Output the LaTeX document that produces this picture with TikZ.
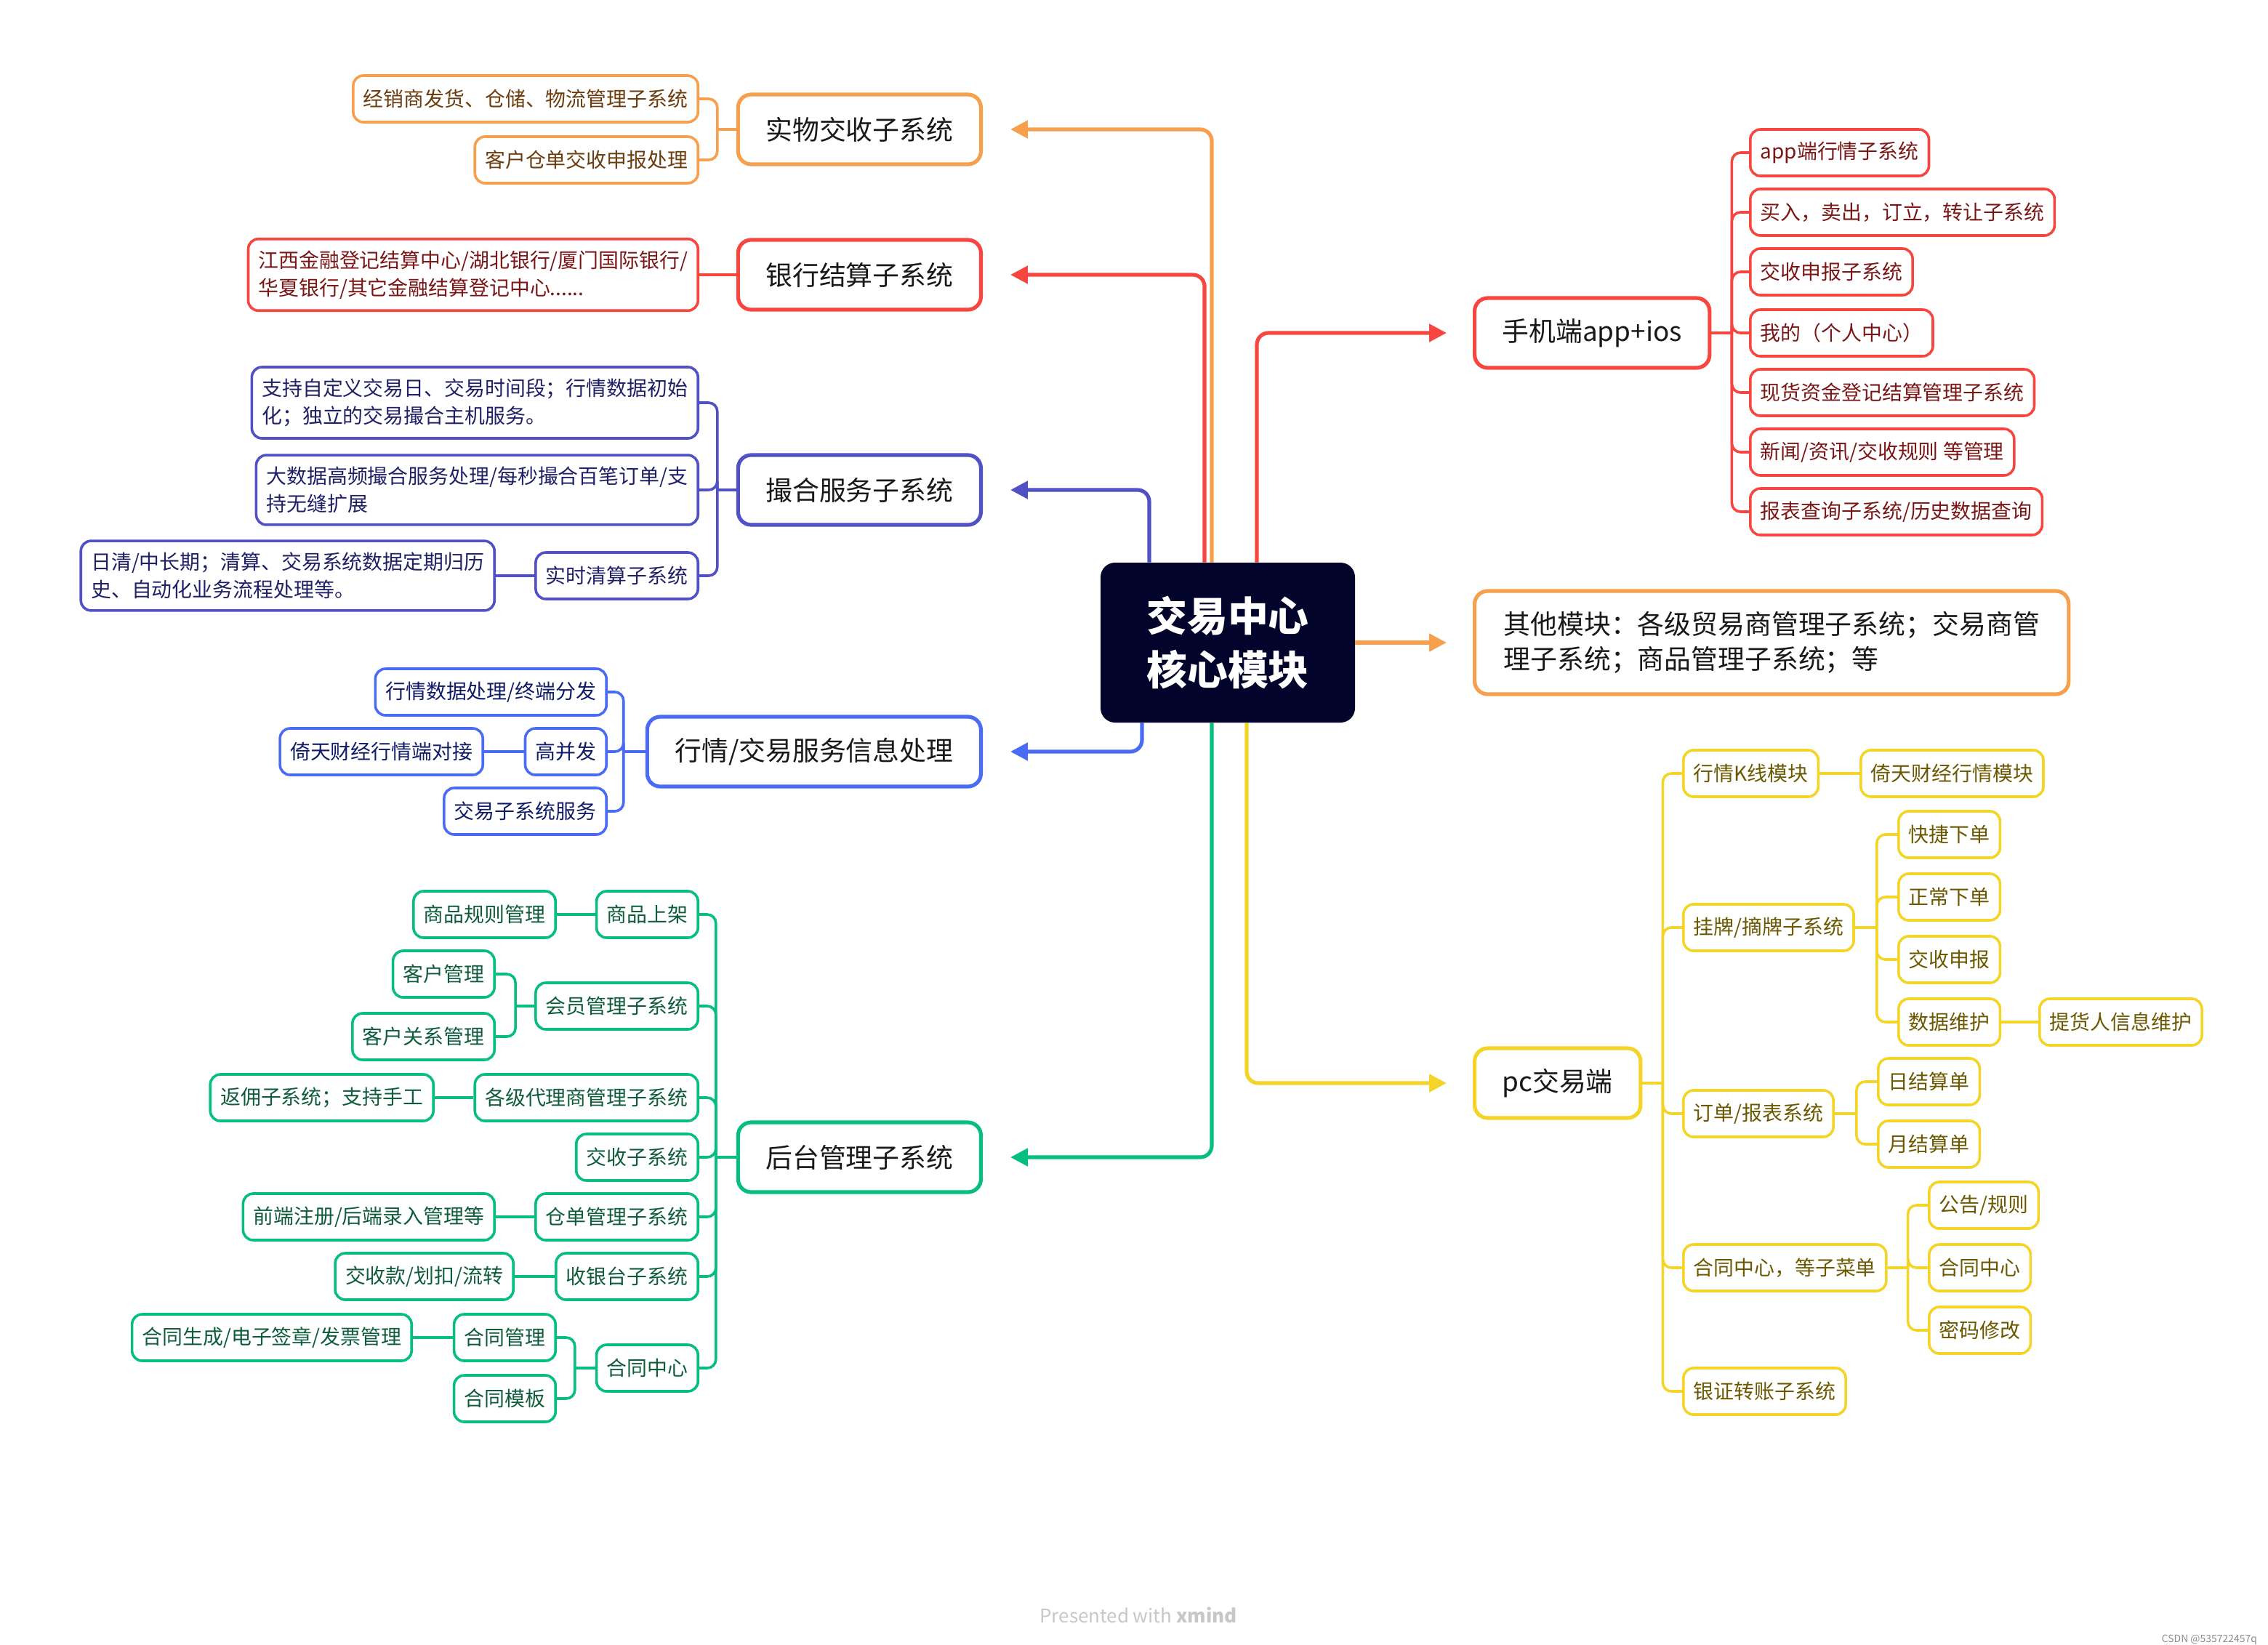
\documentclass[tikz,border=0pt]{standalone}
\usepackage{fontspec}
\setmainfont{Noto Sans CJK SC}
\usetikzlibrary{arrows.meta}
\definecolor{hubfill}{HTML}{02042B}
\definecolor{orng}{HTML}{F6A04D}
\definecolor{orngtxt}{HTML}{6B3C0E}
\definecolor{rd}{HTML}{F7453F}
\definecolor{rdtxt}{HTML}{7A1616}
\definecolor{pur}{HTML}{5150C5}
\definecolor{purtxt}{HTML}{202066}
\definecolor{blu}{HTML}{4A6CF5}
\definecolor{blutxt}{HTML}{101C66}
\definecolor{grn}{HTML}{06BE7E}
\definecolor{grntxt}{HTML}{0E5C3C}
\definecolor{yel}{HTML}{F3D427}
\definecolor{yeltxt}{HTML}{6B5800}
\begin{document}
\begin{tikzpicture}
  [x=1bp, y=-1bp,
  every node/.style={align=left},
  hub/.style={fill=hubfill, text=white, rounded corners=10pt, align=center,
    minimum width=175bp, minimum height=110bp, font=\fontsize{28}{37}\selectfont\bfseries},
  topic/.style={draw=#1, line width=2.6pt, rounded corners=9pt, text=black!90,
    minimum height=48bp, inner xsep=19bp, font=\fontsize{18.5}{24}\selectfont},
  leaf/.style={draw=#1, line width=1.8pt, rounded corners=7pt,
    minimum height=32bp, inner xsep=7bp, inner ysep=8bp, font=\fontsize{14}{19}\selectfont},
  oleaf/.style={leaf=orng, text=orngtxt},
  rleaf/.style={leaf=rd, text=rdtxt},
  pleaf/.style={leaf=pur, text=purtxt},
  bleaf/.style={leaf=blu, text=blutxt},
  gleaf/.style={leaf=grn, text=grntxt},
  yleaf/.style={leaf=yel, text=yeltxt},
  main/.style={line width=2.6pt, rounded corners=8pt,
    -{Triangle[length=12pt,width=12pt]}, shorten >=19bp},
  link/.style={draw=#1, line width=1.8pt, rounded corners=6pt},
  ]
  \useasboundingbox (0,0) rectangle (1560,1131);

  % centre
  \node[hub] (hub) at (844.5,442) {交易中心\\核心模块};

  % left topics
  \node[topic=orng, anchor=east] (phys) at (676,89) {实物交收子系统};
  \node[topic=rd, anchor=east] (bank) at (676,189) {银行结算子系统};
  \node[topic=pur, anchor=east] (match) at (676,337) {撮合服务子系统};
  \node[topic=blu, anchor=east] (quote) at (676,517) {行情/交易服务信息处理};
  \node[topic=grn, anchor=east] (admin) at (676,796) {后台管理子系统};

  % right topics
  \node[topic=rd, anchor=west] (mobile) at (1013,229) {手机端app+ios};
  \node[topic=orng, anchor=west, inner xsep=20bp, minimum height=71bp] (other) at (1013,442)
    {其他模块：各级贸易商管理子系统；交易商管\\理子系统；商品管理子系统；等};
  \node[topic=yel, anchor=west] (pc) at (1013,745) {pc交易端};

  \draw[main, orng] ([xshift=-11bp]hub.north) |- (phys);
  \draw[main, rd] ([xshift=-16bp]hub.north) |- (bank);
  \draw[main, pur] ([xshift=-54bp]hub.north) |- (match);
  \draw[main, blu] ([xshift=-59bp]hub.south) |- (quote);
  \draw[main, grn] ([xshift=-11bp]hub.south) |- (admin);
  \draw[main, rd, shorten >=18bp] ([xshift=20bp]hub.north) |- (mobile);
  \draw[main, orng, shorten >=18bp] (hub) -- (other);
  \draw[main, yel, shorten >=18bp] ([xshift=13bp]hub.south) |- (pc);

  % physical delivery
  \node[oleaf, anchor=east] (dist) at (481,68) {经销商发货、仓储、物流管理子系统};
  \node[oleaf, anchor=east] (claim) at (481,110) {客户仓单交收申报处理};
  \coordinate (physJ) at ([xshift=-13bp]phys.west);
  \draw[link=orng] (phys.west) -- (physJ);
  \draw[link=orng] (physJ) |- (dist.east);
  \draw[link=orng] (physJ) |- (claim.east);

  % bank settlement
  \node[rleaf, anchor=east] (banklist) at (481,189)
    {江西金融登记结算中心/湖北银行/厦门国际银行/\\华夏银行/其它金融结算登记中心......};
  \draw[link=rd] (bank.west) -- (banklist.east);

  % matching
  \node[pleaf, anchor=east] (rule1) at (481,277)
    {支持自定义交易日、交易时间段；行情数据初始\\化；独立的交易撮合主机服务。};
  \node[pleaf, anchor=east] (rule2) at (481,337)
    {大数据高频撮合服务处理/每秒撮合百笔订单/支\\持无缝扩展};
  \node[pleaf, anchor=east] (clear) at (481,396) {实时清算子系统};
  \node[pleaf, anchor=east] (clearnote) at (341,396)
    {日清/中长期；清算、交易系统数据定期归历\\史、自动化业务流程处理等。};
  \coordinate (matchJ) at ([xshift=-13bp]match.west);
  \draw[link=pur] (match.west) -- (matchJ);
  \draw[link=pur] (matchJ) |- (rule1.east);
  \draw[link=pur] (matchJ) |- (rule2.east);
  \draw[link=pur] (matchJ) |- (clear.east);
  \draw[link=pur] (clear.west) -- (clearnote.east);

  % quotes
  \node[bleaf, anchor=east] (qdist) at (418,476) {行情数据处理/终端分发};
  \node[bleaf, anchor=east] (conc) at (418,517) {高并发};
  \node[bleaf, anchor=east] (ytfeed) at (333,517) {倚天财经行情端对接};
  \node[bleaf, anchor=east] (tsvc) at (418,558) {交易子系统服务};
  \coordinate (quoteJ) at ([xshift=-15bp]quote.west);
  \draw[link=blu] (quote.west) -- (quoteJ);
  \draw[link=blu] (quoteJ) |- (qdist.east);
  \draw[link=blu] (quoteJ) |- (conc.east);
  \draw[link=blu] (quoteJ) |- (tsvc.east);
  \draw[link=blu] (conc.west) -- (ytfeed.east);

  % back office
  \node[gleaf, anchor=east] (golist) at (481,629) {商品上架};
  \node[gleaf, anchor=east] (listrule) at (383,629) {商品规则管理};
  \node[gleaf, anchor=east] (member) at (481,692) {会员管理子系统};
  \node[gleaf, anchor=east] (custmgr) at (341,670) {客户管理};
  \node[gleaf, anchor=east] (crm) at (341,713) {客户关系管理};
  \node[gleaf, anchor=east] (agent) at (481,755) {各级代理商管理子系统};
  \node[gleaf, anchor=east] (rebate) at (299,755) {返佣子系统；支持手工};
  \node[gleaf, anchor=east] (settle) at (481,796) {交收子系统};
  \node[gleaf, anchor=east] (receipt) at (481,837) {仓单管理子系统};
  \node[gleaf, anchor=east] (regnote) at (341,837) {前端注册/后端录入管理等};
  \node[gleaf, anchor=east] (cashier) at (481,878) {收银台子系统};
  \node[gleaf, anchor=east] (paynote) at (354,878) {交收款/划扣/流转};
  \node[gleaf, anchor=east] (contract) at (481,941) {合同中心};
  \node[gleaf, anchor=east] (cmgr) at (383,920) {合同管理};
  \node[gleaf, anchor=east] (cgen) at (284,920) {合同生成/电子签章/发票管理};
  \node[gleaf, anchor=east] (ctpl) at (383,962) {合同模板};
  \coordinate (adminJ) at ([xshift=-14bp]admin.west);
  \draw[link=grn] (admin.west) -- (adminJ);
  \draw[link=grn] (adminJ) |- (golist.east);
  \draw[link=grn] (adminJ) |- (member.east);
  \draw[link=grn] (adminJ) |- (agent.east);
  \draw[link=grn] (adminJ) |- (settle.east);
  \draw[link=grn] (adminJ) |- (receipt.east);
  \draw[link=grn] (adminJ) |- (cashier.east);
  \draw[link=grn] (adminJ) |- (contract.east);
  \draw[link=grn] (golist.west) -- (listrule.east);
  \coordinate (memberJ) at ([xshift=-13bp]member.west);
  \draw[link=grn] (member.west) -- (memberJ);
  \draw[link=grn] (memberJ) |- (custmgr.east);
  \draw[link=grn] (memberJ) |- (crm.east);
  \draw[link=grn] (agent.west) -- (rebate.east);
  \draw[link=grn] (receipt.west) -- (regnote.east);
  \draw[link=grn] (cashier.west) -- (paynote.east);
  \coordinate (contractJ) at ([xshift=-14bp]contract.west);
  \draw[link=grn] (contract.west) -- (contractJ);
  \draw[link=grn] (contractJ) |- (cmgr.east);
  \draw[link=grn] (contractJ) |- (ctpl.east);
  \draw[link=grn] (cmgr.west) -- (cgen.east);

  % mobile app
  \node[rleaf, anchor=west] (appq) at (1203,105) {app端行情子系统};
  \node[rleaf, anchor=west] (trade) at (1203,146) {买入，卖出，订立，转让子系统};
  \node[rleaf, anchor=west] (dclaim) at (1203,187) {交收申报子系统};
  \node[rleaf, anchor=west] (mine) at (1203,229) {我的（个人中心）};
  \node[rleaf, anchor=west] (funds) at (1203,270) {现货资金登记结算管理子系统};
  \node[rleaf, anchor=west] (news) at (1203,311) {新闻/资讯/交收规则 等管理};
  \node[rleaf, anchor=west] (report) at (1203,352) {报表查询子系统/历史数据查询};
  \coordinate (mobileJ) at ([xshift=14bp]mobile.east);
  \draw[link=rd] (mobile.east) -- (mobileJ);
  \draw[link=rd] (mobileJ) |- (appq.west);
  \draw[link=rd] (mobileJ) |- (trade.west);
  \draw[link=rd] (mobileJ) |- (dclaim.west);
  \draw[link=rd] (mobileJ) |- (mine.west);
  \draw[link=rd] (mobileJ) |- (funds.west);
  \draw[link=rd] (mobileJ) |- (news.west);
  \draw[link=rd] (mobileJ) |- (report.west);

  % pc client
  \node[yleaf, anchor=west] (kline) at (1157,532) {行情K线模块};
  \node[yleaf, anchor=west] (ytmod) at (1279,532) {倚天财经行情模块};
  \node[yleaf, anchor=west] (listing) at (1157,638) {挂牌/摘牌子系统};
  \node[yleaf, anchor=west] (quick) at (1305,574) {快捷下单};
  \node[yleaf, anchor=west] (normal) at (1305,617) {正常下单};
  \node[yleaf, anchor=west] (ydeliver) at (1305,660) {交收申报};
  \node[yleaf, anchor=west] (maint) at (1305,703) {数据维护};
  \node[yleaf, anchor=west] (pickup) at (1402,703) {提货人信息维护};
  \node[yleaf, anchor=west] (orders) at (1157,766) {订单/报表系统};
  \node[yleaf, anchor=west] (daily) at (1291,744) {日结算单};
  \node[yleaf, anchor=west] (monthly) at (1291,787) {月结算单};
  \node[yleaf, anchor=west] (menu) at (1157,872) {合同中心，等子菜单};
  \node[yleaf, anchor=west] (notice) at (1326,829) {公告/规则};
  \node[yleaf, anchor=west] (ycc) at (1326,872) {合同中心};
  \node[yleaf, anchor=west] (pwd) at (1326,915) {密码修改};
  \node[yleaf, anchor=west] (transfer) at (1157,957) {银证转账子系统};
  \coordinate (pcJ) at ([xshift=14bp]pc.east);
  \draw[link=yel] (pc.east) -- (pcJ);
  \draw[link=yel] (pcJ) |- (kline.west);
  \draw[link=yel] (pcJ) |- (listing.west);
  \draw[link=yel] (pcJ) |- (orders.west);
  \draw[link=yel] (pcJ) |- (menu.west);
  \draw[link=yel] (pcJ) |- (transfer.west);
  \draw[link=yel] (kline.east) -- (ytmod.west);
  \coordinate (listingJ) at ([xshift=15bp]listing.east);
  \draw[link=yel] (listing.east) -- (listingJ);
  \draw[link=yel] (listingJ) |- (quick.west);
  \draw[link=yel] (listingJ) |- (normal.west);
  \draw[link=yel] (listingJ) |- (ydeliver.west);
  \draw[link=yel] (listingJ) |- (maint.west);
  \draw[link=yel] (maint.east) -- (pickup.west);
  \coordinate (ordersJ) at ([xshift=15bp]orders.east);
  \draw[link=yel] (orders.east) -- (ordersJ);
  \draw[link=yel] (ordersJ) |- (daily.west);
  \draw[link=yel] (ordersJ) |- (monthly.west);
  \coordinate (menuJ) at ([xshift=14bp]menu.east);
  \draw[link=yel] (menu.east) -- (menuJ);
  \draw[link=yel] (menuJ) |- (notice.west);
  \draw[link=yel] (menuJ) |- (ycc.west);
  \draw[link=yel] (menuJ) |- (pwd.west);

  % footer
  \node[text=black!22, font=\fontsize{13}{15}\selectfont] (credit) at (783,1111) {Presented with \textbf{xmind}};
  \node[text=black!45, font=\fontsize{7}{8}\selectfont, anchor=east] (mark) at (1556,1128) {CSDN @535722457q};
\end{tikzpicture}
\end{document}
